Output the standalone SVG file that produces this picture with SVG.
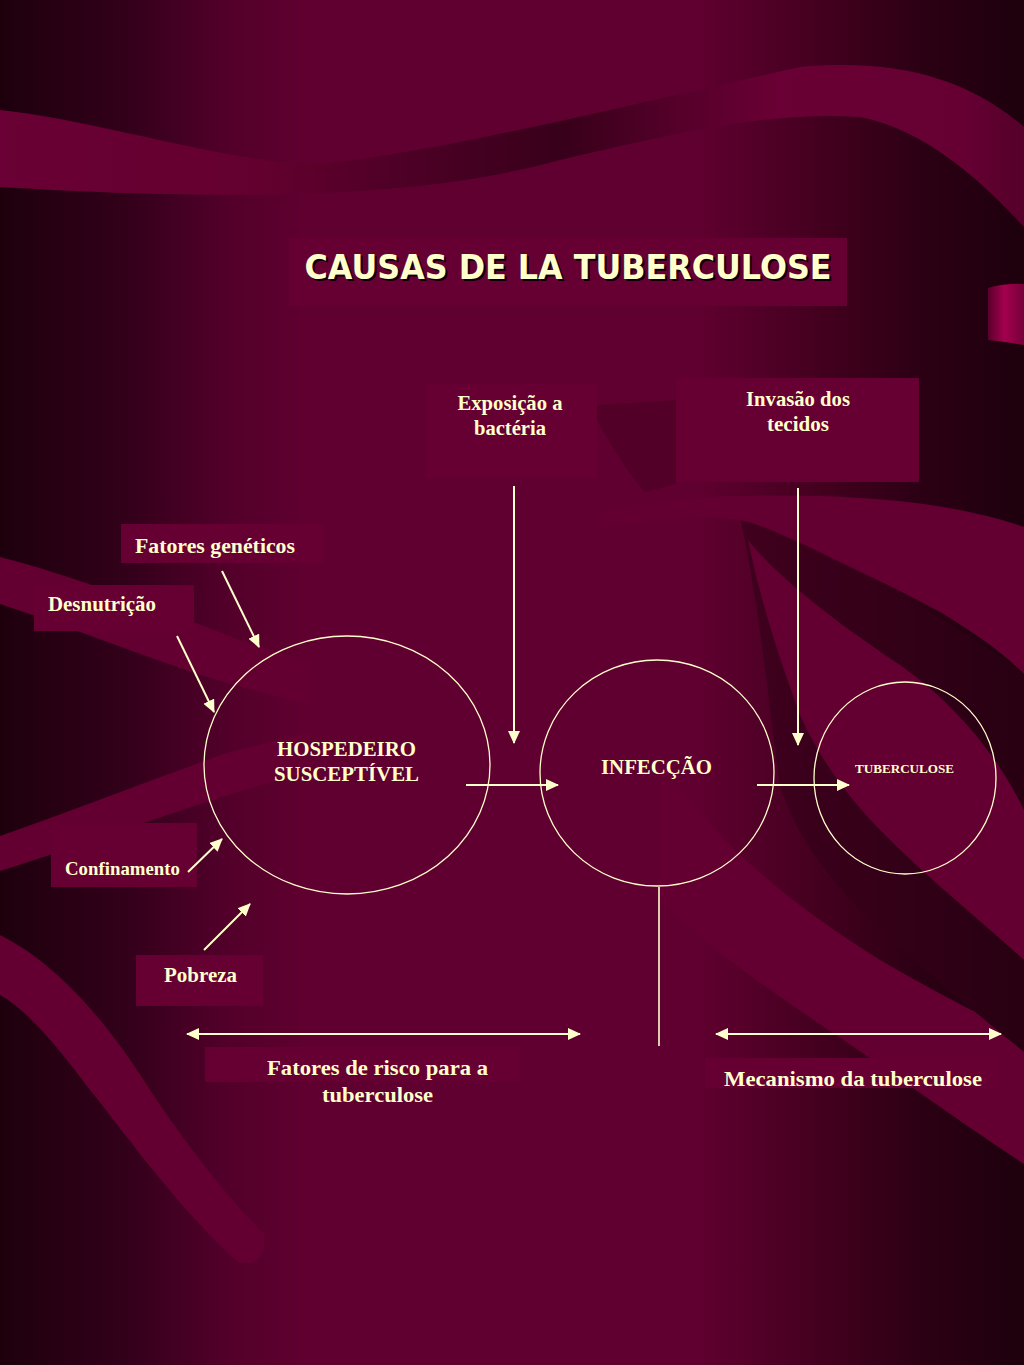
<svg xmlns="http://www.w3.org/2000/svg" width="1024" height="1365" viewBox="0 0 1024 1365">
<defs>
  <linearGradient id="bg" x1="0" y1="0" x2="1024" y2="0" gradientUnits="userSpaceOnUse">
    <stop offset="0" stop-color="#1e000d"/>
    <stop offset="0.12" stop-color="#32001a"/>
    <stop offset="0.22" stop-color="#52002a"/>
    <stop offset="0.3" stop-color="#600030"/>
    <stop offset="0.68" stop-color="#600030"/>
    <stop offset="0.8" stop-color="#44001f"/>
    <stop offset="0.9" stop-color="#2c0014"/>
    <stop offset="1" stop-color="#1e000d"/>
  </linearGradient>
  <linearGradient id="wave" x1="0" y1="0" x2="1024" y2="0" gradientUnits="userSpaceOnUse">
    <stop offset="0" stop-color="#6a0035"/>
    <stop offset="0.25" stop-color="#64002f"/>
    <stop offset="0.42" stop-color="#4a0024"/>
    <stop offset="0.55" stop-color="#38001a"/>
    <stop offset="0.66" stop-color="#55002a"/>
    <stop offset="0.76" stop-color="#6a0035"/>
    <stop offset="0.94" stop-color="#660033"/>
    <stop offset="1" stop-color="#55002a"/>
  </linearGradient>
  <linearGradient id="bar" x1="988" y1="0" x2="1024" y2="0" gradientUnits="userSpaceOnUse">
    <stop offset="0" stop-color="#5a002c"/>
    <stop offset="0.45" stop-color="#a3004e"/>
    <stop offset="1" stop-color="#75003a"/>
  </linearGradient>
  <linearGradient id="dark" x1="740" y1="0" x2="1024" y2="0" gradientUnits="userSpaceOnUse">
    <stop offset="0" stop-color="#40001e"/>
    <stop offset="1" stop-color="#280012"/>
  </linearGradient>
  <marker id="ah" markerUnits="userSpaceOnUse" markerWidth="14" markerHeight="12" refX="12" refY="6" orient="auto-start-reverse">
    <path d="M0,0 L13,6 L0,12 Z" fill="#ffffcc"/>
  </marker>
  <style>
    .band{fill:#630031}
    .box{fill:#660033}
    .lbl{font-family:"Liberation Serif","Times New Roman",serif;font-weight:bold;fill:#ffffcc;text-anchor:middle;font-size:21px}
    .node ellipse{fill:none;stroke:#ffffcc;stroke-width:1.3}
    .conn line{stroke:#ffffcc;stroke-width:2;fill:none}
    .title{font-family:"DejaVu Sans","Liberation Sans",sans-serif;font-weight:bold;font-size:34px;text-anchor:middle}
  </style>
</defs>

<g id="background">
  <rect x="0" y="0" width="1024" height="1365" fill="url(#bg)"/>
  <path fill="url(#wave)" d="M0,110 C100,120 250,170 330,163 C450,150 650,100 800,67 C900,58 970,80 1024,127 L1024,227 C990,190 930,130 860,117 C760,110 650,140 560,160 C450,190 300,205 0,187 Z"/>
  <path fill="url(#bar)" d="M988,288 Q1006,283 1024,284 L1024,345 Q1006,342 988,340 Z"/>
  <path class="band" d="M0,557 C70,575 150,605 240,640 L310,662 L310,705 C260,692 240,686 230,684 C150,660 80,630 0,604 Z"/>
  <path class="band" d="M0,836 C80,808 150,780 230,752 L310,732 L310,772 C230,790 100,840 0,871 Z"/>
  <path class="band" d="M0,935 C50,960 100,1010 150,1090 C190,1150 230,1200 265,1235 Q266,1268 238,1262 C180,1210 130,1140 90,1090 C60,1050 30,1012 0,995 Z"/>
  <path fill="#530029" d="M597,405 L676,400 L676,484 L645,492 C625,470 608,440 597,420 Z"/>
  <path class="band" d="M660,760 C720,850 800,910 880,960 C940,995 990,1020 1024,1035 L1024,1164 C980,1135 930,1100 880,1065 C800,1010 720,960 660,900 Z"/>
  <path fill="url(#dark)" d="M740,516 C830,556 940,610 1024,674 L1024,1052 C960,1000 900,950 860,910 C820,870 792,825 780,785 C770,720 762,620 740,516 Z"/>
  <path class="band" d="M748,540 C780,580 840,625 900,665 C950,700 995,750 1024,810 L1024,960 C980,920 930,880 885,835 C850,800 820,760 800,715 C780,660 760,600 748,540 Z"/>
  <path class="band" d="M600,512 C660,500 700,496 740,496 C820,494 900,498 960,510 C990,516 1010,522 1024,527 L1024,674 C1000,650 970,630 940,612 C900,590 860,572 820,552 C790,538 760,524 740,520 C700,515 650,520 600,528 Z"/>
</g>

<g id="title">
  <rect x="289" y="238" width="558" height="68" fill="#660033"/>
  <text class="title" x="570" y="281" fill="#000000" fill-opacity="0.85" textLength="527" lengthAdjust="spacingAndGlyphs">CAUSAS DE LA TUBERCULOSE</text>
  <text class="title" x="568" y="279" fill="#ffffcc" textLength="527" lengthAdjust="spacingAndGlyphs">CAUSAS DE LA TUBERCULOSE</text>
</g>

<g id="label-exposicao">
  <rect class="box" x="425" y="384" width="172" height="94"/>
  <text class="lbl" x="510" y="410" textLength="105" lengthAdjust="spacingAndGlyphs">Exposição a</text>
  <text class="lbl" x="510" y="435" textLength="72" lengthAdjust="spacingAndGlyphs">bactéria</text>
</g>
<g id="label-invasao">
  <rect class="box" x="676" y="378" width="243" height="104"/>
  <text class="lbl" x="798" y="406" textLength="104" lengthAdjust="spacingAndGlyphs">Invasão dos</text>
  <text class="lbl" x="798" y="431" textLength="62" lengthAdjust="spacingAndGlyphs">tecidos</text>
</g>
<g id="label-geneticos">
  <rect class="box" x="121" y="524" width="202" height="39"/>
  <text class="lbl" x="215" y="553" textLength="160" lengthAdjust="spacingAndGlyphs">Fatores genéticos</text>
</g>
<g id="label-desnutricao">
  <rect class="box" x="34" y="585" width="160" height="46"/>
  <text class="lbl" x="102" y="611" textLength="108" lengthAdjust="spacingAndGlyphs">Desnutrição</text>
</g>
<g id="label-confinamento">
  <rect class="box" x="51" y="823" width="146" height="64"/>
  <text class="lbl" x="122.5" y="875" style="font-size:19px" textLength="115" lengthAdjust="spacingAndGlyphs">Confinamento</text>
</g>
<g id="label-pobreza">
  <rect class="box" x="136" y="955" width="127" height="51"/>
  <text class="lbl" x="200.5" y="982" textLength="73" lengthAdjust="spacingAndGlyphs">Pobreza</text>
</g>

<g id="node-hospedeiro" class="node">
  <ellipse cx="347" cy="765" rx="143" ry="129"/>
  <text class="lbl" x="346.5" y="756" textLength="139" lengthAdjust="spacingAndGlyphs">HOSPEDEIRO</text>
  <text class="lbl" x="346.5" y="781" textLength="145" lengthAdjust="spacingAndGlyphs">SUSCEPTÍVEL</text>
</g>
<g id="node-infeccao" class="node">
  <ellipse cx="657" cy="773" rx="117" ry="113"/>
  <text class="lbl" x="656.5" y="774" textLength="111" lengthAdjust="spacingAndGlyphs">INFECÇÃO</text>
</g>
<g id="node-tuberculose" class="node">
  <ellipse cx="905" cy="778" rx="91" ry="96"/>
  <text class="lbl" x="904.5" y="773" style="font-size:13px" textLength="99" lengthAdjust="spacingAndGlyphs">TUBERCULOSE</text>
</g>

<g id="label-fatores-risco">
  <rect class="box" x="205" y="1047" width="315" height="35"/>
  <text class="lbl" x="377.5" y="1075" style="font-size:22px" textLength="221" lengthAdjust="spacingAndGlyphs">Fatores de risco para a</text>
  <text class="lbl" x="377.5" y="1102" style="font-size:22px" textLength="111" lengthAdjust="spacingAndGlyphs">tuberculose</text>
</g>
<g id="label-mecanismo">
  <rect class="box" x="705" y="1058" width="295" height="30"/>
  <text class="lbl" x="853" y="1086" style="font-size:22px" textLength="258" lengthAdjust="spacingAndGlyphs">Mecanismo da tuberculose</text>
</g>

<g id="connectors" class="conn">
  <line x1="222" y1="571" x2="259" y2="647" marker-end="url(#ah)"/>
  <line x1="177" y1="636" x2="214" y2="712" marker-end="url(#ah)"/>
  <line x1="188" y1="872" x2="222" y2="839" marker-end="url(#ah)"/>
  <line x1="204" y1="950" x2="250" y2="904" marker-end="url(#ah)"/>
  <line x1="514" y1="486" x2="514" y2="743" marker-end="url(#ah)"/>
  <line x1="798" y1="488" x2="798" y2="745" marker-end="url(#ah)"/>
  <line x1="466" y1="785" x2="558" y2="785" marker-end="url(#ah)"/>
  <line x1="757" y1="785" x2="849" y2="785" marker-end="url(#ah)"/>
  <line x1="659" y1="887" x2="659" y2="1046" style="stroke-width:1.6"/>
  <line x1="187" y1="1034" x2="580" y2="1034" marker-start="url(#ah)" marker-end="url(#ah)"/>
  <line x1="716" y1="1034" x2="1001" y2="1034" marker-start="url(#ah)" marker-end="url(#ah)"/>
</g>
</svg>
